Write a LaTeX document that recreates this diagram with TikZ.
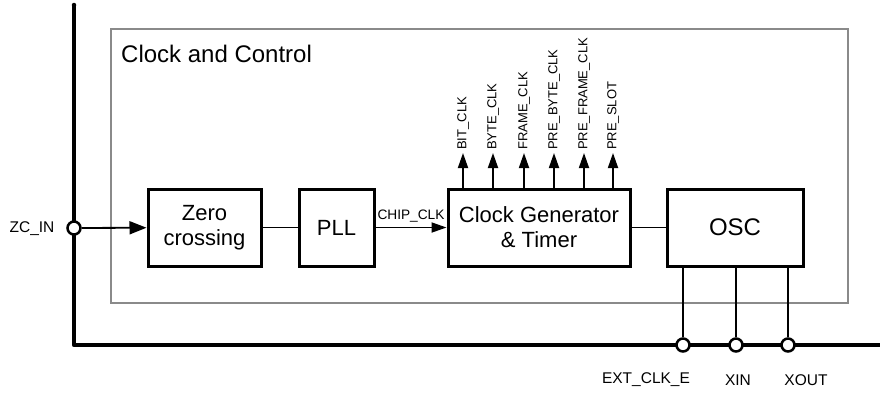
\documentclass[tikz,border=0pt]{standalone}
\usepackage{fontspec}
\setmainfont{Liberation Sans}
\usetikzlibrary{arrows.meta}
\definecolor{frame}{HTML}{8A8A8A}
\tikzset{
  blk/.style={draw=black, line width=3pt, inner sep=0pt, align=center, font=\fontsize{22}{25}\selectfont},
  pin/.style={circle, draw=black, fill=white, line width=2.5pt, minimum size=13pt, inner sep=0pt},
  thin/.style={line width=1.8pt},
  bus/.style={line width=4.5pt, line join=round},
  arr/.style={thin, -{Triangle[length=15pt,width=10pt]}},
  sig/.style={font=\fontsize{13}{13}\selectfont, rotate=90, anchor=west, inner sep=0pt},
  lab/.style={font=\fontsize{15.5}{16}\selectfont, inner sep=0pt},
}
\begin{document}
\begin{tikzpicture}[x=1pt,y=-1pt]
\useasboundingbox (0,0) rectangle (880,392);
% outer bus
\coordinate (bustop) at (74,5);
\coordinate (busend) at (880,345);
\draw[bus] (bustop) |- (busend);
\fill (bustop) circle (2.25pt);
% Clock and Control frame
\draw[frame, line width=2pt] (111,29) rectangle (848,303);
\node[anchor=base west, inner sep=0pt, font=\fontsize{24}{24}\selectfont] (title) at (121,62) {Clock and Control};
% blocks
\node[blk, minimum width=113pt, minimum height=77pt] (zc) at (204.5,227.5) {Zero\\crossing};
\node[blk, minimum width=75pt, minimum height=77pt] (pll) at (336.5,227.5) {PLL};
\node[blk, minimum width=182pt, minimum height=77pt] (cg) at (539,227.5) {Clock Generator\\\& Timer};
\node[blk, minimum width=136pt, minimum height=77pt, font=\fontsize{24}{25}\selectfont] (osc) at (735,227.5) {OSC};
% ZC_IN
\node[pin] (zcin) at (74,228) {};
\node[lab] (zcinl) at (32,229) {ZC\_IN};
\draw[thin, -{Triangle[length=17pt,width=13pt]}] (zcin) -- (zc);
\draw[thin] (zc) -- (pll);
\draw[arr] (pll) -- node[above=4pt, font=\fontsize{13.7}{14}\selectfont, inner sep=0pt] (chipl) {CHIP\_CLK} (cg);
\draw[thin] (cg) -- (osc);
% clock outputs
\foreach \n/\x/\t in {1/463/BIT\_CLK, 2/493/BYTE\_CLK, 3/524/FRAME\_CLK, 4/554/PRE\_BYTE\_CLK, 5/584/PRE\_FRAME\_CLK, 6/613/PRE\_SLOT}{
  \coordinate (tip\n) at (\x,153);
  \node[sig] (s\n) at (\x,150) {\t};
  \draw[arr] (cg.north -| tip\n) -- (tip\n);
}
% OSC pins
\node[pin] (ext) at (683,345) {};
\node[pin] (xin) at (736,345) {};
\node[pin] (xout) at (788,345) {};
\draw[thin] (osc.south -| ext) -- (ext);
\draw[thin] (osc.south -| xin) -- (xin);
\draw[thin] (osc.south -| xout) -- (xout);
\node[lab] (extl) at (646,380) {EXT\_CLK\_E};
\node[lab] (xinl) at (738,380) {XIN};
\node[lab] (xoutl) at (806,380) {XOUT};
\end{tikzpicture}
\end{document}
